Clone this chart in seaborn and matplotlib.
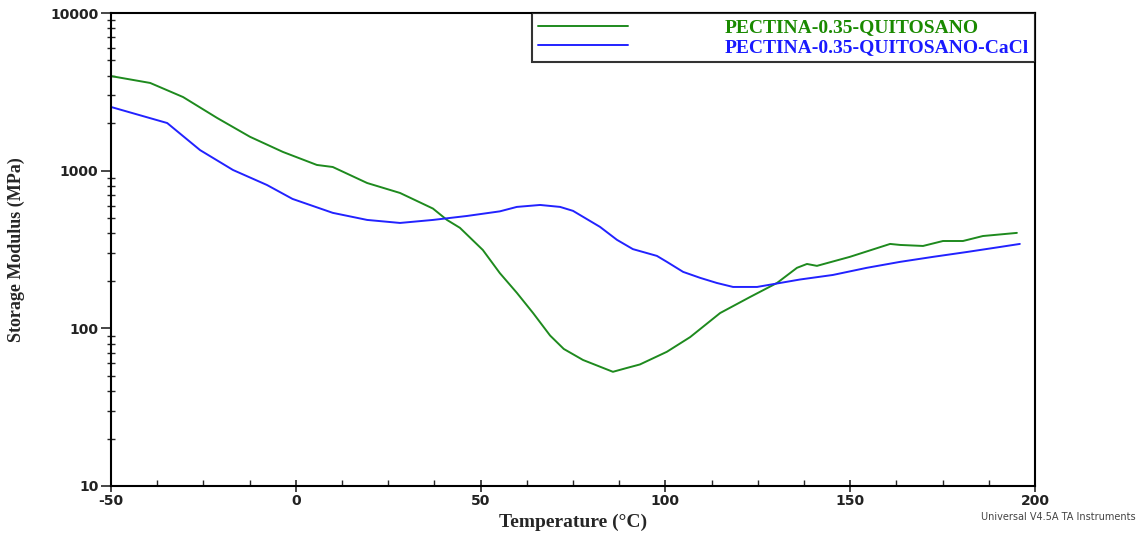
import numpy as np
import pandas as pd
import matplotlib
matplotlib.use("Agg")
import matplotlib.pyplot as plt
import matplotlib.ticker as mticker
import seaborn as sns

# ---- data ----
green_label = "PECTINA-0.35-QUITOSANO"
blue_label = "PECTINA-0.35-QUITOSANO-CaCl"

green_T = [-50, -39.4, -30.5, -21.3, -12.4, -3.5, 5.7, 10, 19.3, 28.2, 37.1, 40.9,
           44.4, 50.6, 55.2, 59.8, 64.2, 68.8, 72.5, 77.7, 85.8, 89.5, 93.1, 100.4,
           106.7, 114.8, 122.9, 130.2, 135.6, 138.3, 141, 149.9, 160.8, 163.5,
           169.7, 175.1, 180.5, 185.9, 195.1]
green_E = [3980, 3600, 2930, 2160, 1640, 1315, 1087, 1055, 835, 722, 575, 487,
           434, 314, 224, 168, 125, 90, 74, 63, 53, 56, 59, 71,
           88, 125, 158, 194, 242, 256, 249, 284, 343, 338,
           333, 358, 358, 385, 403]

blue_T = [-50, -34.8, -25.9, -17, -7.8, -0.9, 10, 19.3, 28.2, 37.1, 46.3, 55.2,
          59.8, 66.1, 71.5, 75, 82.3, 86.9, 91.2, 97.7, 100.4, 104.8, 109.4,
          113.9, 118.3, 124.8, 136.4, 145.3, 154.5, 163.5, 172.4, 181.6, 190.5, 195.9]
blue_E = [2535, 2005, 1350, 1010, 811, 662, 540, 487, 466, 487, 516, 552,
          589, 606, 589, 556, 440, 364, 318, 288, 264, 228, 209,
          194, 183, 183, 204, 218, 242, 264, 284, 305, 328, 343]

x_ticks = [-50, 0, 50, 100, 150, 200]
y_ticks = [10, 100, 1000, 10000]

df = pd.concat([
    pd.DataFrame({"T": green_T, "E": green_E, "sample": green_label}),
    pd.DataFrame({"T": blue_T, "E": blue_E, "sample": blue_label}),
])

sns.set_style("white")
plt.rcParams["font.family"] = ["DejaVu Sans"]
plt.rcParams["axes.unicode_minus"] = False

fig = plt.figure(figsize=(11.41, 5.35), dpi=100)
ax = fig.add_axes([0.0973, 0.0916, 0.8098, 0.8841])

palette = {green_label: "#1e8a1e", blue_label: "#2222ff"}
sns.lineplot(data=df, x="T", y="E", hue="sample", palette=palette,
             linewidth=1.4, ax=ax, legend=True)

ax.set_yscale("log")
ax.set_xlim(-50, 200)
ax.set_ylim(10, 10000)
ax.set_xticks(x_ticks)
ax.xaxis.set_minor_locator(mticker.MultipleLocator(12.5))
ax.set_yticks(y_ticks)
ax.yaxis.set_major_formatter(mticker.FuncFormatter(lambda v, p: f"{int(round(v))}"))
ax.yaxis.set_minor_locator(mticker.LogLocator(base=10, subs=np.arange(2, 10)))
ax.yaxis.set_minor_formatter(mticker.NullFormatter())

for s in ax.spines.values():
    s.set_color("black")
    s.set_linewidth(1.5)

ax.tick_params(axis="x", which="major", direction="inout", length=8, width=1.2,
               labelsize=10, pad=2)
ax.tick_params(axis="x", which="minor", direction="in", length=4, width=1.0)
ax.tick_params(axis="y", which="major", direction="out", length=7, width=1.2,
               labelsize=10, pad=2)
ax.tick_params(axis="y", which="minor", direction="inout", length=6, width=1.0)
ax.tick_params(which="both", bottom=True, left=True, top=False, right=False)
for lab in ax.get_xticklabels() + ax.get_yticklabels():
    lab.set_fontweight("bold")
    lab.set_color("#222222")

ax.set_xlabel("Temperature (°C)", family=["Liberation Serif"], fontweight="bold",
              fontsize=14, labelpad=4)
ax.set_ylabel("Storage Modulus (MPa)", family=["Liberation Serif"], fontweight="bold",
              fontsize=13, labelpad=18)

leg = ax.legend(loc="upper right", bbox_to_anchor=(1.0, 1.0), borderaxespad=0,
                frameon=True, fancybox=False, edgecolor="black", handlelength=4.6,
                handletextpad=5.0, borderpad=0.3, labelspacing=0.1,
                prop={"family": "Liberation Serif", "weight": "bold", "size": 14})
leg.get_frame().set_linewidth(1.5)
for txt, c in zip(leg.get_texts(), ["#1a8a00", "#1a1aff"]):
    txt.set_color(c)

fig.text(0.995, 0.033, "Universal V4.5A TA Instruments", ha="right", va="center",
         fontsize=7, color="#444444")

fig.savefig("out.png", dpi=100)
